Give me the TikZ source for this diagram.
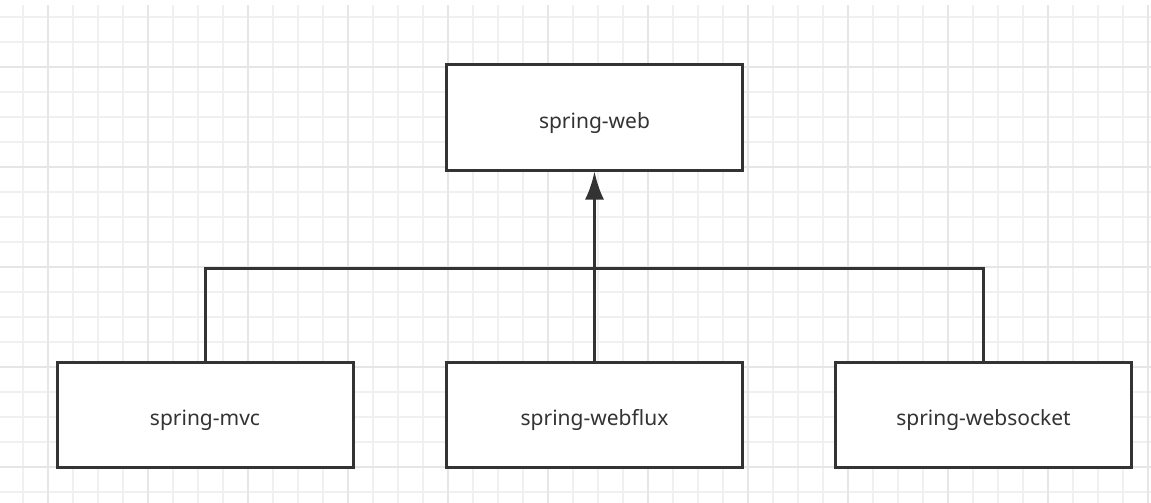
\documentclass[tikz,border=0pt]{standalone}
\usepackage{fontspec}
\setmainfont{Noto Sans}
\usetikzlibrary{arrows.meta}

\definecolor{inkgray}{HTML}{333333}
\definecolor{gridlight}{HTML}{F0F0F0}
\definecolor{griddark}{HTML}{E6E6E6}

\begin{document}
\begin{tikzpicture}[x=1pt, y=-1pt,
  module/.style={draw=inkgray, line width=3pt, fill=white, minimum width=296pt, minimum height=105pt, inner sep=0pt, text=inkgray, text height=23pt, text depth=2pt, font=\fontsize{21}{24}\selectfont},
  link/.style={draw=inkgray, line width=3pt},
  gridline/.style={draw=gridlight, line width=1.4pt},
  gridmajor/.style={draw=griddark, line width=1.6pt}]
\useasboundingbox (0,0) rectangle (1151,503);
\fill[white] (0,0) rectangle (1151,503);

%% background grid
\foreach \x in {23,48,...,1150} \draw[gridline] (\x,5) -- (\x,503);
\foreach \y in {17,42,...,500} \draw[gridline] (0,\y) -- (1151,\y);
\foreach \x in {48,148,...,1150} \draw[gridmajor] (\x,5) -- (\x,503);
\foreach \y in {67,167,...,500} \draw[gridmajor] (0,\y) -- (1151,\y);

\node[module] (web) at (594.5,117.5) {spring-web};
\node[module] (mvc) at (205,415) {spring-mvc};
\node[module] (webflux) at (594.5,415) {spring-webflux};
\node[module] (websocket) at (983.5,415) {spring-websocket};

\coordinate (joint) at (594.5,268);
\draw[link] (mvc.north) |- (joint) -| (websocket.north); %%branches
\draw[link, -{Latex[length=28pt,width=19pt]}] (webflux.north) -- (web.south);
\end{tikzpicture}
\end{document}
